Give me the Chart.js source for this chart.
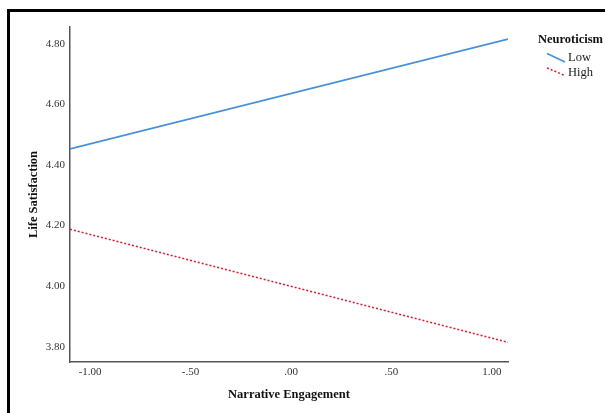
<!DOCTYPE html>
<html>
<head>
<meta charset="utf-8">
<title>Life Satisfaction by Narrative Engagement</title>
<script src="https://cdn.jsdelivr.net/npm/chart.js@4/dist/chart.umd.min.js"></script>
<style>
  html, body { margin: 0; padding: 0; background: #fff; overflow: hidden; }
  #wrap { position: relative; width: 605px; height: 413px; }
  #frame {
    position: absolute; left: 7px; top: 9px; width: 700px; height: 500px;
    border: 3px solid #000; box-sizing: border-box;
  }
  canvas { position: absolute; left: 0; top: 0; }
</style>
</head>
<body>
<div id="wrap">
  <div id="frame"></div>
  <canvas id="chart" width="605" height="413"></canvas>
</div>
<script>
// Simple slopes: predicted life satisfaction at low / high neuroticism
const engagementLevels = [-1.10, 1.08];
const lowNeuroticism = [4.453, 4.815];
const highNeuroticism = [4.188, 3.815];
const xTickValues = [-1, -0.5, 0, 0.5, 1];
const yTickValues = [3.8, 4.0, 4.2, 4.4, 4.6, 4.8];
const yRange = [3.75, 4.855];

const SERIF = "'Liberation Serif', 'Times New Roman', serif";

function points(ys) {
  return engagementLevels.map((x, i) => ({ x: x, y: ys[i] }));
}

function fmtX(v) {
  if (v === 0) return '.00';
  const s = Math.abs(v).toFixed(2).replace(/^0/, '');
  return (v < 0 ? '-' : '') + s;
}

// Legend with a title and slanted line samples, drawn beside the plot
const sideLegend = {
  id: 'sideLegend',
  afterDraw(chart) {
    const ctx = chart.ctx;
    ctx.save();
    ctx.fillStyle = '#111';
    ctx.textBaseline = 'middle';
    ctx.textAlign = 'left';
    ctx.font = 'bold 12.5px ' + SERIF;
    ctx.fillText('Neuroticism', 538, 40);
    const rows = [
      { y0: 53.5, y1: 62, ty: 58 },
      { y0: 68, y1: 75.5, ty: 73 }
    ];
    chart.data.datasets.forEach((ds, i) => {
      const r = rows[i];
      ctx.beginPath();
      ctx.strokeStyle = ds.borderColor;
      ctx.lineWidth = ds.borderWidth;
      ctx.setLineDash(ds.borderDash || []);
      ctx.moveTo(547, r.y0);
      ctx.lineTo(565, r.y1);
      ctx.stroke();
      ctx.setLineDash([]);
      ctx.font = '12.5px ' + SERIF;
      ctx.fillStyle = '#222';
      ctx.fillText(ds.label, 568, r.ty);
    });
    ctx.restore();
  }
};

new Chart(document.getElementById('chart'), {
  type: 'line',
  data: {
    datasets: [
      {
        label: 'Low',
        data: points(lowNeuroticism),
        borderColor: '#4a8fd6',
        borderWidth: 1.6,
        pointRadius: 0,
        tension: 0,
        fill: false
      },
      {
        label: 'High',
        data: points(highNeuroticism),
        borderColor: '#d81e35',
        borderWidth: 1.6,
        borderDash: [2, 2],
        pointRadius: 0,
        tension: 0,
        fill: false
      }
    ]
  },
  options: {
    responsive: false,
    animation: false,
    devicePixelRatio: 1,
    layout: { padding: { top: 27, right: 97, bottom: 11, left: 14 } },
    plugins: {
      legend: { display: false },
      tooltip: { enabled: false }
    },
    scales: {
      x: {
        type: 'linear',
        min: engagementLevels[0],
        max: engagementLevels[engagementLevels.length - 1],
        grid: { display: false, drawTicks: false },
        border: { display: true, color: '#555', width: 1.5 },
        afterBuildTicks: s => { s.ticks = xTickValues.map(v => ({ value: v })); },
        afterFit: s => { s.height = 413 - 11 - 362; },
        ticks: {
          padding: 4,
          color: '#333',
          font: { family: SERIF, size: 11 },
          maxRotation: 0,
          autoSkip: false,
          callback: v => fmtX(v)
        },
        title: {
          display: true,
          text: 'Narrative Engagement',
          color: '#111',
          font: { family: SERIF, size: 12.5, weight: 'bold' },
          padding: { top: 0, bottom: 0 }
        }
      },
      y: {
        type: 'linear',
        min: yRange[0],
        max: yRange[1],
        grid: { display: false, drawTicks: false },
        border: { display: true, color: '#555', width: 1.5 },
        afterBuildTicks: s => { s.ticks = yTickValues.map(v => ({ value: v })); },
        afterFit: s => { s.width = 70 - 14; },
        ticks: {
          padding: 5,
          color: '#333',
          font: { family: SERIF, size: 11 },
          autoSkip: false,
          callback: v => Number(v).toFixed(2)
        },
        title: {
          display: true,
          text: 'Life Satisfaction',
          color: '#111',
          font: { family: SERIF, size: 12.5, weight: 'bold' },
          padding: { top: 12, bottom: 0 }
        }
      }
    }
  },
  plugins: [sideLegend]
});
</script>
</body>
</html>
